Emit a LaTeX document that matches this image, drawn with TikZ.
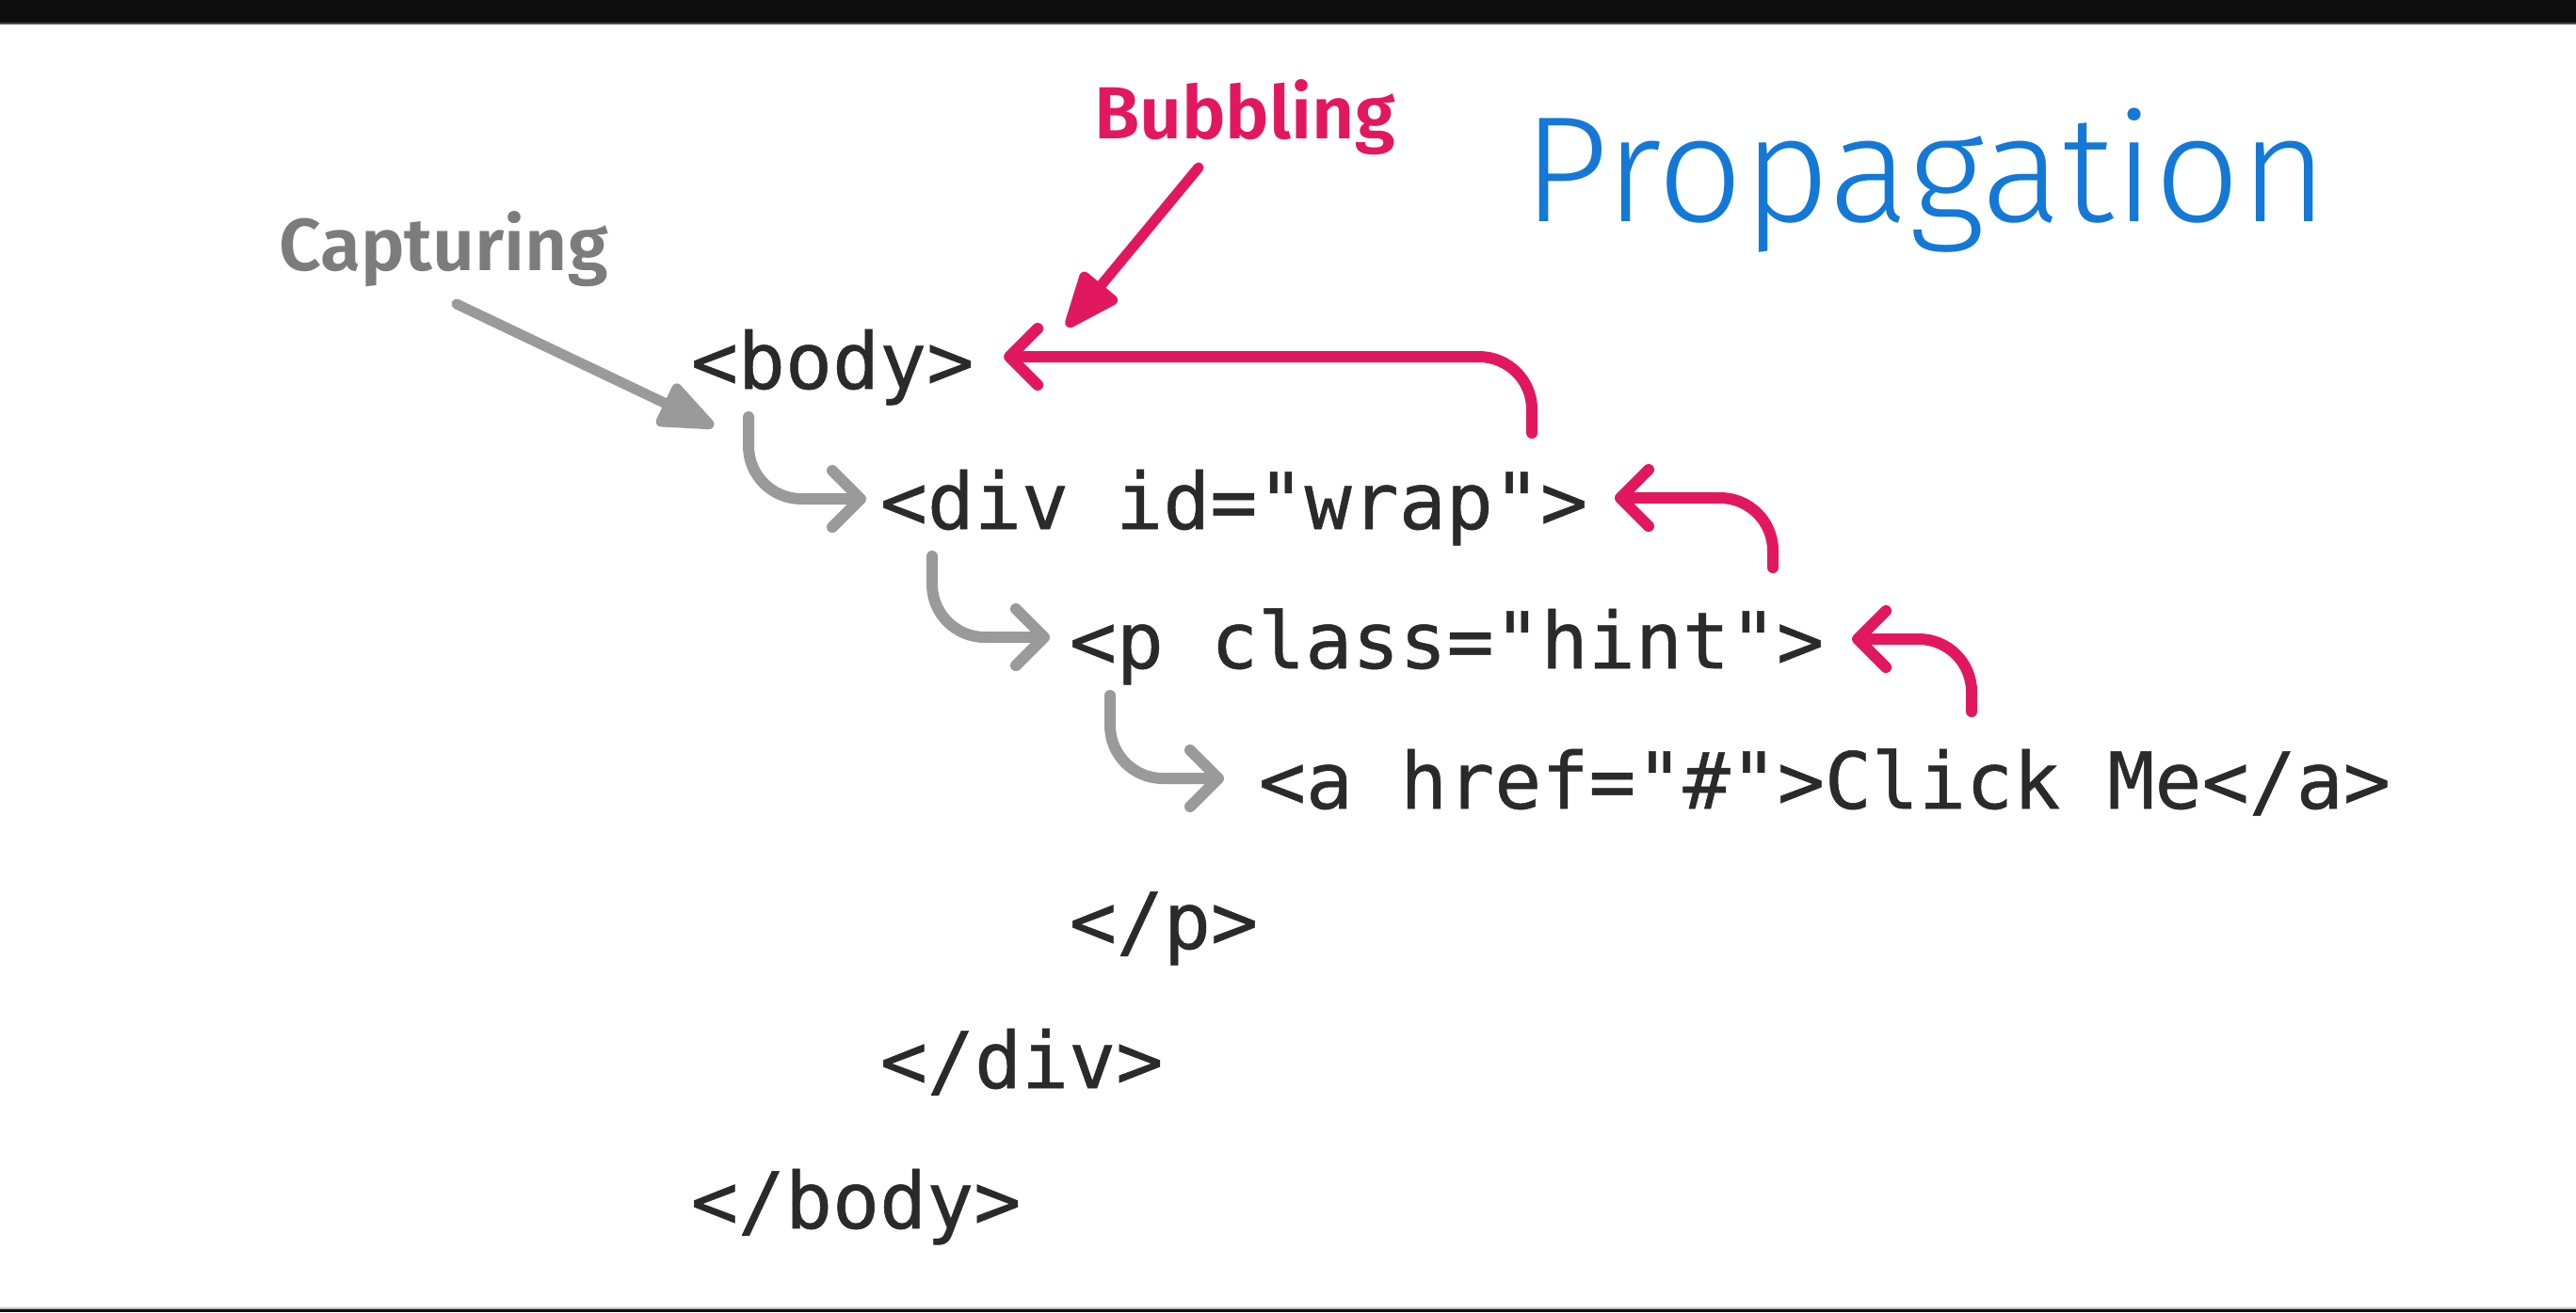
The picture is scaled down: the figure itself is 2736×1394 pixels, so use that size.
\documentclass[tikz,border=0pt]{standalone}
\usepackage{fontspec}
\usepackage{graphicx}
\usetikzlibrary{arrows.meta}
\newfontfamily\codefont{DejaVu Sans Mono}[Ligatures=TeXOff, FakeBold=0.6]
\newfontfamily\labelfont{Fira Sans SemiBold}
\newfontfamily\handfont{Fira Sans Light}
\definecolor{ink}{HTML}{2A2A2A}
\definecolor{bubble}{HTML}{E2185F}
\definecolor{capline}{HTML}{9A9A9A}
\definecolor{captext}{HTML}{7C7C7C}
\definecolor{handblue}{HTML}{1478D7}
\definecolor{frame}{HTML}{0E0E0E}

\begin{document}
\begin{tikzpicture}[x=0.25pt, y=-0.25pt,
  code/.style={anchor=base west, inner sep=0pt, text=ink,
    font={\codefont\fontsize{20.8pt}{25pt}\selectfont}},
  tag/.style={anchor=base, inner sep=0pt,
    font={\labelfont\fontsize{19.6pt}{23pt}\selectfont}},
  capflow/.style={draw=capline, line width=3pt, line cap=round, line join=round,
    rounded corners=14pt, -{Straight Barb[length=7.5pt, width=15pt, round]}},
  bubbleflow/.style={draw=bubble, line width=3pt, line cap=round, line join=round,
    rounded corners=14pt, -{Straight Barb[length=7.5pt, width=15pt, round]}},
  pointer/.style={line width=2.75pt, line cap=round,
    -{Triangle[round, length=17pt, width=13pt]}},
]
% page and frame bars
\useasboundingbox (0,0) rectangle (2736,1394);
\fill[white] (0,0) rectangle (2736,1394);
\fill[frame] (0,0) rectangle (2736,24);
\fill[black!70] (0,24) rectangle (2736,26);
\fill[black!25] (0,1389) rectangle (2736,1391);
\fill[frame] (0,1391) rectangle (2736,1394);

% markup lines
\node[code] (body)      at (733,413)  {<body>};
\node[code] (div)       at (934,562)  {<div id="wrap">};
\node[code] (p)         at (1135,710) {<p class="hint">};
\node[code] (a)         at (1336,859) {<a href="\#">Click Me</a>};
\node[code] (pclose)    at (1135,1008) {</p>};
\node[code] (divclose)  at (934,1156) {</div>};
\node[code] (bodyclose) at (733,1305) {</body>};

% phase labels
\node[tag, text=bubble]  (bubb) at (1322,147) {Bubbling};
\node[tag, text=captext] (capt) at (471,287)  {Capturing};
\node[anchor=base, inner sep=0pt, text=handblue,
  font={\handfont\fontsize{40pt}{48pt}\selectfont}] (prop) at (2045,235) {Propagation};

% label pointers
\coordinate (captTip) at ([shift={(25,40)}]body.base west);
\draw[pointer, capline] ([shift={(14,36)}]capt.base) -- (captTip);
\coordinate (bubbTip) at ([shift={(98,-66)}]body.base east);
\draw[pointer, bubble] ([shift={(-49,31)}]bubb.base) -- (bubbTip);

% capturing: parent down to child
\draw[capflow] ([shift={(62,30)}]body.base west) |- ([shift={(-14,-32)}]div.base west);
\draw[capflow] ([shift={(56,29)}]div.base west)  |- ([shift={(-20,-33)}]p.base west);
\draw[capflow] ([shift={(44,29)}]p.base west)    |- ([shift={(-36,-32)}]a.base west);

% bubbling: child up to parent
\draw[bubbleflow] ([shift={(693,-102)}]div.base west) |- ([shift={(31,-34)}]body.base east);
\draw[bubbleflow] ([shift={(748,-107)}]p.base west)   |- ([shift={(28,-33)}]div.base east);
\draw[bubbleflow] ([shift={(758,-103)}]a.base west)   |- ([shift={(29,-31)}]p.base east);
\end{tikzpicture}
\end{document}
